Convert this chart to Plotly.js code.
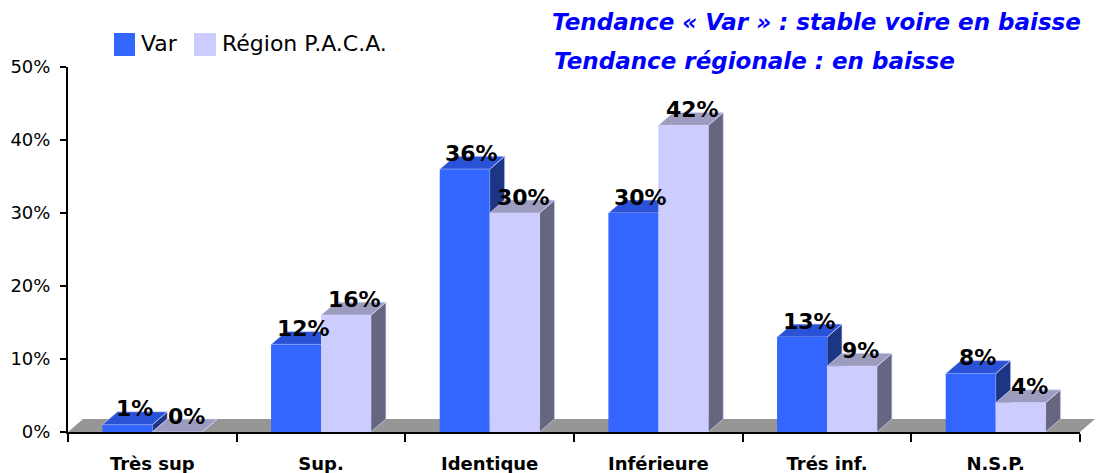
<!DOCTYPE html>
<html><head><meta charset="utf-8">
<script src="https://cdn.plot.ly/plotly-3.0.1.min.js"></script>
<style>html,body{margin:0;padding:0;background:#fff}#chart{width:1103px;height:473px}</style>
</head><body><div id="chart"></div>
<script>
const categories = ['Très sup', 'Sup.', 'Identique', 'Inférieure', 'Trés inf.', 'N.S.P.'];
const varValues = [1, 12, 36, 30, 13, 8];
const pacaValues = [0, 16, 30, 42, 9, 4];
const seriesNames = ['Var', 'Région P.A.C.A.'];
const yTickVals = [0, 10, 20, 30, 40, 50];
const titleLines = ['Tendance « Var » : stable voire en baisse', 'Tendance régionale : en baisse'];

const W = 0.296, DX = 0.089, DY = 1.78;
const C = {
  varFront: '#3366FF', varTop: '#2A52D6', varSide: '#1C3585',
  regFront: '#CCCCFF', regTop: '#9C9CBF', regSide: '#666680', floor: '#969696'
};
const FONT = 'DejaVu Sans, Verdana, sans-serif';

function path(pts){ return 'M' + pts.map(p => p[0] + ',' + p[1]).join(' L') + ' Z'; }

const shapes = [];
// floor (paper coords)
const fdx = 15/1012, fdy = 13/365;
shapes.push({type:'path', xref:'paper', yref:'paper', layer:'below',
  path: path([[0,0],[1,0],[1+fdx,fdy],[fdx,fdy]]), fillcolor:C.floor, line:{width:0}});

function box(x0, v, top, side){
  const x1 = x0 + W;
  shapes.push({type:'path', xref:'x', yref:'y', layer:'below',
    path: path([[x1,0],[x1,v],[x1+DX,v+DY],[x1+DX,DY]]), fillcolor:side, line:{width:0.8, color:'rgba(220,220,255,0.8)'}});
  shapes.push({type:'path', xref:'x', yref:'y', layer:'below',
    path: path([[x0,v],[x1,v],[x1+DX,v+DY],[x0+DX,v+DY]]), fillcolor:top, line:{width:0.8, color:'rgba(220,220,255,0.8)'}});
}
categories.forEach((c,i) => { box(i - W, varValues[i], C.varTop, C.varSide); });
categories.forEach((c,i) => { box(i, pacaValues[i], C.regTop, C.regSide); });

const annotations = [];
categories.forEach((c,i) => {
  annotations.push({x: i - W/2, y: varValues[i], xref:'x', yref:'y', text: varValues[i] + '%',
    showarrow:false, xshift:7, yshift:16, font:{family:FONT, size:22, color:'#000', weight:'bold'}});
  annotations.push({x: i + W/2, y: pacaValues[i], xref:'x', yref:'y', text: pacaValues[i] + '%',
    showarrow:false, xshift:9, yshift:16, font:{family:FONT, size:22, color:'#000', weight:'bold'}});
});
annotations.push({xref:'paper', yref:'paper', x:(552-68)/1012, y:1+(67-61)/365, xanchor:'left', yanchor:'middle',
  text: titleLines[1], showarrow:false, font:{family:FONT, size:23, color:'#0000FF', weight:'bold', style:'italic'}});
// legend (custom)
const legendItems = [
  {x0:114, x1:135, color:C.varFront, tx:139, text:seriesNames[0]},
  {x0:194, x1:216, color:C.regFront, tx:220, text:seriesNames[1]}
];
legendItems.forEach(it => {
  shapes.push({type:'rect', xref:'paper', yref:'paper',
    x0:(it.x0-68)/1012, x1:(it.x1-68)/1012, y0:(432-56)/365, y1:(432-33)/365,
    fillcolor:it.color, line:{width:0}});
  annotations.push({xref:'paper', yref:'paper', x:(it.tx-68)/1012, y:(432-44)/365, xanchor:'left', yanchor:'middle',
    text: it.text, showarrow:false, font:{family:FONT, size:22, color:'#000'}});
});

const traces = [
  {type:'bar', name:seriesNames[0], x:categories, y:varValues, width:W, offset:-W,
   marker:{color:C.varFront, line:{width:0}}, hoverinfo:'x+y'},
  {type:'bar', name:seriesNames[1], x:categories, y:pacaValues, width:W, offset:0,
   marker:{color:C.regFront, line:{width:0}}, hoverinfo:'x+y'}
];

const layout = {
  width:1103, height:473, paper_bgcolor:'#fff', plot_bgcolor:'rgba(0,0,0,0)',
  margin:{l:68, r:23, t:67, b:41}, showlegend:false, barmode:'overlay',
  title:{text:titleLines[0], x:552/1103, xanchor:'left', xref:'container', y:1-22/473, yanchor:'middle',
    font:{family:FONT, size:23, color:'#0000FF', weight:'bold', style:'italic'}},
  xaxis:{type:'category', range:[-0.5, 5.5], tickson:'boundaries', ticks:'outside', ticklen:8, tickwidth:2,
    tickcolor:'#000', showline:true, linecolor:'#000', linewidth:2, showgrid:false, zeroline:false,
    ticklabelstandoff:14, tickfont:{family:FONT, size:18, color:'#000', weight:'bold'}},
  yaxis:{range:[0,50], tickvals:yTickVals, ticktext:yTickVals.map(v => v + '%'), ticks:'outside', ticklen:6,
    tickwidth:2, tickcolor:'#000', showline:true, linecolor:'#000', linewidth:2, showgrid:false, zeroline:false,
    ticklabelstandoff:6, tickfont:{family:FONT, size:18, color:'#000'}},
  shapes: shapes, annotations: annotations
};
Plotly.newPlot('chart', traces, layout, {displayModeBar:false, staticPlot:true});
</script></body></html>
